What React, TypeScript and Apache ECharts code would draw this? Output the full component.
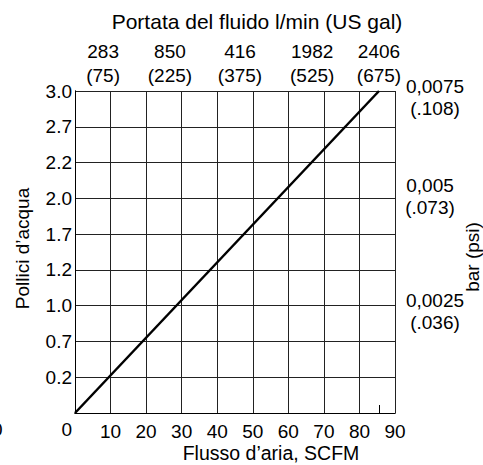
import React, { useEffect, useRef } from "react";
import * as echarts from "echarts";

const FONT = "'Liberation Sans', Arial, Helvetica, sans-serif";

// bottom axis: air flow, SCFM
const scfmTicks = [0, 10, 20, 30, 40, 50, 60, 70, 80, 90];
// left axis: inches of water (labels at evenly spaced grid rows 0..9)
const inchLabels = ["0", "0.2", "0.7", "1.0", "1.2", "1.7", "2.0", "2.2", "2.7", "3.0"];
// top axis: fluid flow l/min (US gal) and their positions on the SCFM scale
const lpmLabels = ["283", "850", "416", "1982", "2406"];
const galLabels = ["75", "225", "375", "525", "675"];
const topPositions = [7.9, 26.7, 46.4, 66.7, 85.5];
// right axis: bar (psi) and their positions on the row scale
const barLabels = ["0,0025", "0,005", "0,0075"];
const psiLabels = ["(.036)", "(.073)", "(.108)"];
const rightPositions = [2.84, 6.04, 8.83];
// the line: SCFM vs row position
const lineScfm = [0, 85.5];
const lineRow = [0, 9];

export default function App() {
  const ref = useRef<HTMLDivElement>(null);
  useEffect(() => {
    const chart = echarts.init(ref.current!, null, { renderer: "svg" });
    const txt = { fontFamily: FONT, color: "#000" };
    chart.setOption({
      animation: false,
      backgroundColor: "#fff",
      title: {
        text: "Portata del fluido l/min (US gal)",
        left: 257,
        top: 11,
        textAlign: "center",
        padding: 0,
        textStyle: { ...txt, fontSize: 21, fontWeight: "normal" },
      },
      grid: { left: 75, right: 88, top: 91, bottom: 52, containLabel: false, outerBoundsMode: "none" },
      xAxis: [
        {
          type: "value",
          position: "bottom",
          min: 0,
          max: 90,
          interval: 10,
          name: "Flusso d’aria, SCFM",
          nameLocation: "middle",
          nameGap: 30,
          nameMoveOverlap: false,
          nameTextStyle: { ...txt, fontSize: 19.5, padding: [0, 0, 0, 72] },
          axisLine: { show: true, lineStyle: { color: "#000", width: 1 } },
          axisTick: { show: false },
          splitLine: { show: true, lineStyle: { color: "#222", width: 1 } },
          axisLabel: {
            ...txt,
            fontSize: 19,
            margin: 9,
            showMinLabel: false,
            formatter: (v: number) => (scfmTicks.includes(v) ? String(v) : ""),
          },
        },
        {
          type: "value",
          position: "top",
          min: 0,
          max: 90,
          axisLine: { show: true, lineStyle: { color: "#000", width: 1 } },
          axisTick: {
            show: true,
            inside: false,
            length: 8,
            customValues: [topPositions[topPositions.length - 1]],
            lineStyle: { color: "#000" },
          },
          splitLine: { show: false },
          axisLabel: {
            ...txt,
            fontSize: 19,
            lineHeight: 24,
            margin: 4,
            customValues: topPositions,
            formatter: (v: number) => {
              const i = topPositions.indexOf(v);
              return i >= 0 ? `${lpmLabels[i]}\n(${galLabels[i]})` : "";
            },
          },
        },
      ],
      yAxis: [
        {
          type: "value",
          position: "left",
          min: 0,
          max: 9,
          interval: 1,
          name: "Pollici d’acqua",
          nameLocation: "middle",
          nameGap: 43,
          nameMoveOverlap: false,
          nameTextStyle: { ...txt, fontSize: 19, padding: [0, 0, 0, 7] },
          axisLine: { show: true, lineStyle: { color: "#000", width: 1 } },
          axisTick: { show: false },
          splitLine: { show: true, lineStyle: { color: "#222", width: 1 } },
          axisLabel: {
            ...txt,
            fontSize: 19,
            margin: 3,
            formatter: (v: number) => (v === 0 ? "{z|0}" : inchLabels[v] ?? ""),
            rich: { z: { ...txt, fontSize: 19, padding: [32, 0, 0, 0] } },
          },
        },
        {
          type: "value",
          position: "right",
          min: 0,
          max: 9,
          axisLine: { show: true, lineStyle: { color: "#000", width: 1 } },
          axisTick: { show: false },
          splitLine: { show: false },
          axisLabel: {
            ...txt,
            fontSize: 19,
            lineHeight: 22,
            margin: 40,
            align: "center",
            customValues: rightPositions,
            formatter: (v: number) => {
              const i = rightPositions.indexOf(v);
              if (i < 0) return "";
              const k = i === 1 ? "b" : "a";
              return `{${k}|${barLabels[i]}}\n{${k}|${psiLabels[i]}}`;
            },
            rich: {
              a: { ...txt, fontSize: 19, lineHeight: 22 },
              b: { ...txt, fontSize: 19, lineHeight: 22, padding: [0, 10, 0, 0] },
            },
          },
        },
      ],
      graphic: [
        {
          type: "text",
          left: -8,
          top: 420,
          style: { text: "0", font: `19px ${FONT}`, fill: "#000" },
        },
        {
          type: "text",
          x: 472,
          y: 257,
          rotation: Math.PI / 2,
          style: {
            text: "bar (psi)",
            font: `19px ${FONT}`,
            fill: "#000",
            align: "center",
            verticalAlign: "middle",
          },
        },
      ],
      series: [
        {
          type: "line",
          xAxisIndex: 0,
          yAxisIndex: 0,
          data: lineScfm.map((x, i) => [x, lineRow[i]]),
          showSymbol: false,
          lineStyle: { color: "#000", width: 2.5 },
        },
      ],
    });
    return () => chart.dispose();
  }, []);
  return <div ref={ref} style={{ width: 483, height: 465, position: "absolute", left: 0, top: 0 }} />;
}
